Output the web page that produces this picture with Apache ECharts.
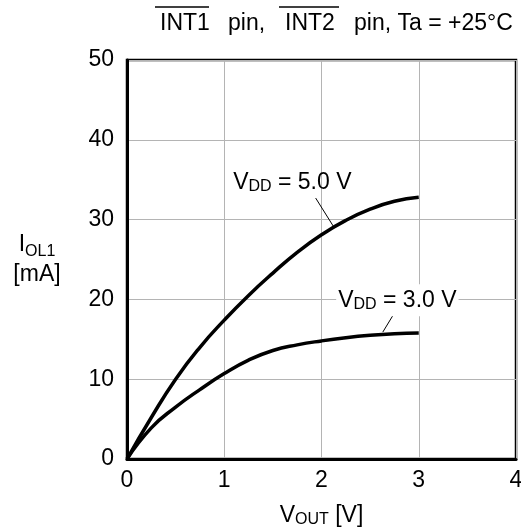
<!DOCTYPE html>
<html>
<head>
<meta charset="utf-8">
<script src="https://cdn.jsdelivr.net/npm/echarts@6/dist/echarts.min.js"></script>
<style>
  html, body { margin: 0; padding: 0; background: #fff; }
  #chartLineBox { width: 521px; height: 528px; }
</style>
</head>
<body>
<div id="chartLineBox"></div>
<script>
  // data (x = VOUT [V], y = IOL1 [mA])
  var vout = [0, 0.25, 0.5, 0.75, 1.0, 1.25, 1.5, 1.75, 2.0, 2.25, 2.5, 2.75, 3.0];
  var iol50 = [0, 5.2, 10.0, 14.0, 17.4, 20.5, 23.3, 25.9, 28.1, 29.9, 31.3, 32.3, 32.8];
  var iol30 = [0, 3.9, 6.5, 8.7, 10.7, 12.4, 13.6, 14.3, 14.8, 15.2, 15.5, 15.7, 15.8];
  var xTicks = [0, 1, 2, 3, 4];
  var yTicks = [0, 10, 20, 30, 40, 50];

  var font = 'Liberation Sans';
  var sub = { fontFamily: font, fontSize: 16, color: '#000', verticalAlign: 'bottom', padding: [8, 0, 0, 0] };
  var big = { fontFamily: font, fontSize: 23, color: '#000' };

  function pairs(xs, ys) {
    var out = [];
    for (var i = 0; i < xs.length; i++) out.push([xs[i], ys[i]]);
    return out;
  }

  var chartLine = echarts.init(document.getElementById('chartLineBox'));
  var option = {
    animation: false,
    backgroundColor: '#fff',
    textStyle: { fontFamily: font },
    grid: {
      left: 127, top: 60, right: 5, bottom: 69,
      outerBoundsMode: 'none',
      show: true, borderColor: '#000', borderWidth: 2.5
    },
    xAxis: {
      type: 'value',
      min: xTicks[0], max: xTicks[xTicks.length - 1], interval: 1,
      name: '{v|V}{s|OUT}{v| [V]}',
      nameLocation: 'middle',
      nameGap: 45,
      nameTextStyle: { rich: { v: big, s: sub } },
      axisLine: { lineStyle: { color: '#000', width: 3 } },
      axisTick: { show: false },
      axisLabel: { color: '#000', fontSize: 23, fontFamily: font, margin: 10 },
      splitLine: { lineStyle: { color: '#b4b4b4', width: 1 } }
    },
    yAxis: {
      type: 'value',
      min: yTicks[0], max: yTicks[yTicks.length - 1], interval: 10,
      name: '{v|I}{s|OL1}\n{v|[mA]}',
      nameLocation: 'middle',
      nameRotate: 0,
      nameGap: 90,
      nameTextStyle: { align: 'center', lineHeight: 30, rich: { v: { fontFamily: font, fontSize: 23, color: '#000', lineHeight: 30 }, s: sub } },
      axisLine: { lineStyle: { color: '#000', width: 3 } },
      axisTick: { show: false },
      axisLabel: { color: '#000', fontSize: 23, fontFamily: font, margin: 13 },
      splitLine: { lineStyle: { color: '#b4b4b4', width: 1 } }
    },
    series: [
      {
        name: 'VDD = 5.0 V',
        type: 'line',
        smooth: true,
        symbol: 'none',
        data: pairs(vout, iol50),
        lineStyle: { color: '#000', width: 3.5 },
        z: 3,
        markLine: {
          silent: true, symbol: 'none', label: { show: false },
          lineStyle: { color: '#000', width: 1, type: 'solid' },
          data: [[{ coord: [1.94, 32.7] }, { coord: [2.12, 29.2] }]]
        },
        markPoint: {
          symbol: 'circle', symbolSize: 0, silent: true,
          data: [{ coord: [1.7, 34.6] }],
          label: {
            show: true, position: 'inside',
            formatter: '{v|V}{s|DD}{v| = 5.0 V}',
            rich: { v: big, s: sub }
          }
        }
      },
      {
        name: 'VDD = 3.0 V',
        type: 'line',
        smooth: true,
        symbol: 'none',
        data: pairs(vout, iol30),
        lineStyle: { color: '#000', width: 3.5 },
        z: 3,
        markLine: {
          silent: true, symbol: 'none', label: { show: false },
          lineStyle: { color: '#000', width: 1, type: 'solid' },
          data: [[{ coord: [2.75, 18.3] }, { coord: [2.63, 15.9] }]]
        },
        markPoint: {
          symbol: 'circle', symbolSize: 0, silent: true,
          data: [{ coord: [2.78, 19.9] }],
          label: {
            show: true, position: 'inside',
            backgroundColor: '#fff', padding: [4, 2, 4, 2],
            formatter: '{v|V}{s|DD}{v| = 3.0 V}',
            rich: { v: big, s: sub }
          }
        }
      }
    ],
    graphic: [
      // header line: INT1 pin, INT2 pin (with overbars), Ta = +25°C
      { type: 'text', left: 160, top: 12, style: { text: 'INT1', font: '23px "Liberation Sans"', fill: '#000' } },
      { type: 'text', left: 228, top: 12, style: { text: 'pin,', font: '23px "Liberation Sans"', fill: '#000' } },
      { type: 'text', left: 285, top: 12, style: { text: 'INT2', font: '23px "Liberation Sans"', fill: '#000' } },
      { type: 'text', left: 354, top: 12, style: { text: 'pin, Ta = +25°C', font: '23px "Liberation Sans"', fill: '#000' } },
      { type: 'line', shape: { x1: 155, y1: 7, x2: 209, y2: 7 }, style: { stroke: '#000', lineWidth: 1.5 } },
      { type: 'line', shape: { x1: 279, y1: 7, x2: 339, y2: 7 }, style: { stroke: '#000', lineWidth: 1.5 } }
    ]
  };
  chartLine.setOption(option);
</script>
</body>
</html>
